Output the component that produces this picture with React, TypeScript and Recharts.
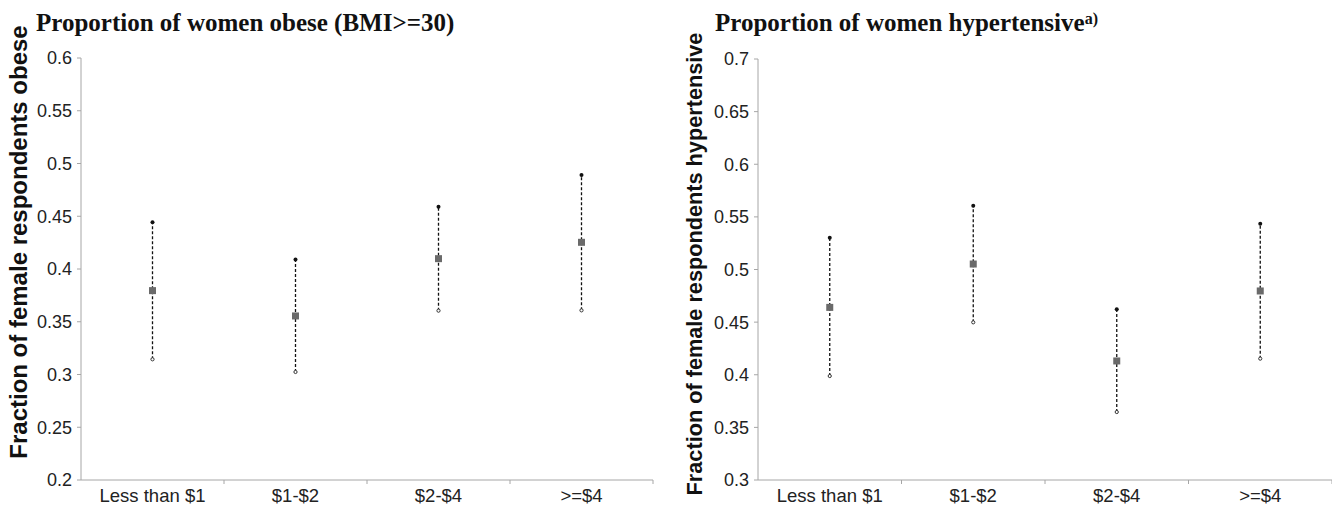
import { ComposedChart, Line, Scatter, XAxis, YAxis } from 'recharts';

const categories = ['Less than $1', '$1-$2', '$2-$4', '>=$4'];

// share of obese women (BMI>=30) by daily income group, with CI bounds
const obeseMean = [0.3795, 0.3555, 0.4098, 0.4253];
const obeseLow = [0.3144, 0.3024, 0.3605, 0.3608];
const obeseHigh = [0.4443, 0.409, 0.459, 0.489];
const obeseTicks = [0.2, 0.25, 0.3, 0.35, 0.4, 0.45, 0.5, 0.55, 0.6];

// share of hypertensive women by daily income group, with CI bounds
const hyperMean = [0.464, 0.5052, 0.4131, 0.4796];
const hyperLow = [0.3988, 0.4498, 0.3646, 0.4153];
const hyperHigh = [0.5302, 0.5606, 0.4622, 0.5435];
const hyperTicks = [0.3, 0.35, 0.4, 0.45, 0.5, 0.55, 0.6, 0.65, 0.7];

// category centres sit on whole numbers, the separators on the halves
const xTicks = [0.5, 1, 1.5, 2, 2.5, 3, 3.5, 4, 4.5];

const SANS = '"Liberation Sans", Arial, sans-serif';
const SERIF = '"Liberation Serif", "Times New Roman", serif';
const AXIS = '#a6a6a6';

function XTick(props: any) {
    const { x, y, payload } = props;
    const v = payload.value;
    if (Number.isInteger(v)) {
        return (
            <text x={x} y={y + 18} textAnchor="middle" fill="#222" fontFamily={SANS} fontSize={18.5}>
                {categories[v - 1]}
            </text>
        );
    }
    if (v === 0.5) return null;
    return <line x1={x} x2={x} y1={y - 4} y2={y} stroke={AXIS} strokeWidth={1} />;
}

function EndDot(props: any) {
    const { cx, cy, index } = props;
    if (index === 1) {
        return <circle cx={cx} cy={cy} r={2} fill="#111" />;
    }
    return <circle cx={cx} cy={cy} r={1.6} fill="#fff" stroke="#333" strokeWidth={1} />;
}

function MeanSquare(props: any) {
    const { cx, cy } = props;
    return <rect x={cx - 3.5} y={cy - 3.5} width={7} height={7} fill="#6a6a6a" />;
}

type PanelProps = {
    width: number;
    yAxisWidth: number;
    top: number;
    right: number;
    labelX: number;
    labelY: number;
    labelSize: number;
    yLabel: string;
    means: number[];
    lows: number[];
    highs: number[];
    ticks: number[];
};

function Panel({ width, yAxisWidth, top, right, labelX, labelY, labelSize, yLabel, means, lows, highs, ticks }: PanelProps) {
    const meanData = means.map((m, i) => ({ x: i + 1, y: m }));
    return (
        <ComposedChart width={width} height={511} margin={{ top, right, bottom: 0, left: 0 }}>
            <XAxis
                dataKey="x"
                type="number"
                domain={[0.5, 4.5]}
                ticks={xTicks}
                interval={0}
                tickLine={false}
                tickSize={4}
                tickMargin={0}
                tick={<XTick />}
                stroke={AXIS}
                height={31}
                allowDataOverflow
            />
            <YAxis
                dataKey="y"
                type="number"
                domain={[ticks[0], ticks[ticks.length - 1]]}
                ticks={ticks}
                interval={0}
                width={yAxisWidth}
                tickSize={4}
                tickMargin={5}
                stroke={AXIS}
                tick={{ fill: '#222', fontSize: 18, fontFamily: SANS }}
                label={{
                    content: () => (
                        <text
                            x={labelX}
                            y={labelY}
                            transform={`rotate(-90, ${labelX}, ${labelY})`}
                            textAnchor="middle"
                            dominantBaseline="central"
                            fontFamily={SANS}
                            fontWeight="bold"
                            fontSize={labelSize}
                            fill="#111"
                        >
                            {yLabel}
                        </text>
                    ),
                }}
            />
            {categories.map((c, i) => (
                <Line
                    key={c}
                    data={[{ x: i + 1, y: lows[i] }, { x: i + 1, y: highs[i] }]}
                    dataKey="y"
                    stroke="#111"
                    strokeWidth={1.3}
                    strokeDasharray="3 2"
                    dot={<EndDot />}
                    activeDot={false}
                    isAnimationActive={false}
                />
            ))}
            <Scatter data={meanData} dataKey="y" shape={<MeanSquare />} isAnimationActive={false} />
        </ComposedChart>
    );
}

const titleStyle = {
    position: 'absolute' as const,
    top: 10,
    fontFamily: SERIF,
    fontWeight: 'bold',
    fontSize: 25,
    lineHeight: '25px',
    color: '#111',
    whiteSpace: 'nowrap' as const,
};

export default function App() {
    return (
        <div style={{ position: 'absolute', left: 0, top: 0, width: 1332, height: 511, background: '#fff' }}>
            <div style={{ position: 'absolute', left: 0, top: 0 }}>
                <Panel
                    width={660}
                    yAxisWidth={81}
                    top={58}
                    right={7}
                    labelX={18}
                    labelY={242}
                    labelSize={24}
                    yLabel="Fraction of female respondents obese"
                    means={obeseMean}
                    lows={obeseLow}
                    highs={obeseHigh}
                    ticks={obeseTicks}
                />
            </div>
            <div style={{ position: 'absolute', left: 660, top: 0 }}>
                <Panel
                    width={672}
                    yAxisWidth={98}
                    top={59}
                    right={0}
                    labelX={34}
                    labelY={264}
                    labelSize={21.7}
                    yLabel="Fraction of female respondents hypertensive"
                    means={hyperMean}
                    lows={hyperLow}
                    highs={hyperHigh}
                    ticks={hyperTicks}
                />
            </div>
            <div style={{ ...titleStyle, left: 36 }}>Proportion of women obese (BMI&gt;=30)</div>
            <div style={{ ...titleStyle, left: 715 }}>
                Proportion of women hypertensive
                <span style={{ fontSize: 16, position: 'relative', top: -7 }}>a)</span>
            </div>
        </div>
    );
}
